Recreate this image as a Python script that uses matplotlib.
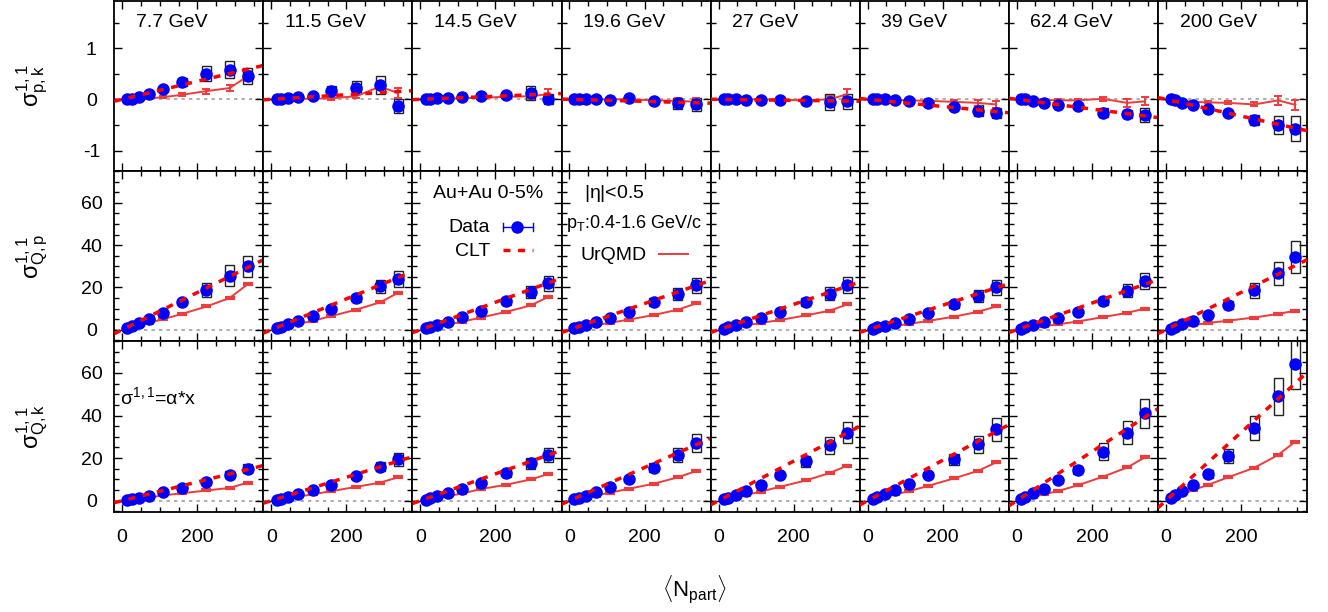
import numpy as np
import matplotlib
matplotlib.use("Agg")
import matplotlib.pyplot as plt
from matplotlib.patches import Rectangle
from matplotlib.lines import Line2D
from matplotlib.ticker import MultipleLocator, FixedLocator

plt.rcParams['font.family'] = ['Liberation Sans', 'DejaVu Sans']
plt.rcParams['mathtext.fontset'] = 'custom'
plt.rcParams['mathtext.rm'] = 'Liberation Sans'
plt.rcParams['mathtext.it'] = 'Liberation Sans'
plt.rcParams['mathtext.sf'] = 'Liberation Sans'
plt.rcParams['axes.unicode_minus'] = False

energies = ['7.7 GeV', '11.5 GeV', '14.5 GeV', '19.6 GeV', '27 GeV', '39 GeV', '62.4 GeV', '200 GeV']

# <Npart> per energy, peripheral -> central (70-80% ... 0-5%)
npart = [
    [14, 26, 45, 72, 108, 160, 224, 286, 334],
    [14, 26, 44, 72, 110, 160, 226, 290, 338],
    [14, 26, 45, 73, 111, 162, 229, 294, 340],
    [13, 25, 44, 71, 108, 158, 225, 289, 338],
    [14, 26, 46, 74, 112, 163, 232, 296, 343],
    [14, 26, 46, 74, 111, 162, 230, 294, 342],
    [12, 23, 43, 73, 111, 162, 230, 294, 341],
    [14, 25, 44, 73, 113, 166, 236, 299, 345],
]

# sigma^{1,1}_{p,k}
pk_data = [
    [0.0, 0.01, 0.05, 0.11, 0.2, 0.34, 0.5, 0.58, 0.45],
    [0.0, 0.0, 0.03, 0.04, 0.06, 0.17, 0.23, 0.28, -0.13],
    [0.0, 0.01, 0.02, 0.03, 0.05, 0.06, 0.08, 0.12, 0.0],
    [0.0, 0.0, 0.0, 0.0, -0.01, 0.02, -0.03, -0.08, -0.1],
    [0.0, 0.0, 0.0, -0.01, -0.01, -0.02, -0.03, -0.05, -0.04],
    [0.0, 0.0, 0.0, -0.02, -0.04, -0.08, -0.15, -0.22, -0.26],
    [0.0, 0.0, -0.03, -0.07, -0.11, -0.14, -0.26, -0.285, -0.31],
    [0.0, -0.01, -0.07, -0.12, -0.19, -0.27, -0.4, -0.5, -0.57],
]
pk_sys = [
    [0.01, 0.01, 0.02, 0.03, 0.04, 0.085, 0.15, 0.17, 0.155],
    [0.01, 0.01, 0.02, 0.02, 0.03, 0.09, 0.12, 0.17, 0.13],
    [0.01, 0.01, 0.01, 0.02, 0.02, 0.04, 0.06, 0.14, 0.1],
    [0.01, 0.01, 0.01, 0.02, 0.02, 0.04, 0.06, 0.1, 0.13],
    [0.01, 0.01, 0.01, 0.02, 0.02, 0.04, 0.06, 0.15, 0.15],
    [0.01, 0.01, 0.01, 0.02, 0.03, 0.04, 0.06, 0.1, 0.1],
    [0.01, 0.01, 0.02, 0.03, 0.04, 0.05, 0.09, 0.085, 0.14],
    [0.01, 0.01, 0.02, 0.03, 0.04, 0.05, 0.1, 0.18, 0.25],
]
pk_urqmd = [
    [0.0, 0.005, 0.01, 0.02, 0.04, 0.09, 0.16, 0.22, 0.45],
    [0.0, 0.0, 0.01, 0.01, 0.01, 0.02, 0.06, 0.25, 0.12],
    [0.0, 0.0, 0.01, 0.01, 0.02, 0.03, 0.05, 0.06, 0.1],
    [0.0, 0.0, 0.0, 0.0, 0.0, 0.0, -0.02, -0.03, -0.05],
    [0.0, 0.0, 0.0, 0.0, 0.0, -0.01, -0.02, 0.0, 0.1],
    [0.0, 0.0, 0.0, -0.01, -0.02, -0.03, -0.05, -0.07, -0.1],
    [0.0, 0.0, -0.01, -0.01, -0.02, -0.02, 0.01, -0.07, -0.04],
    [0.0, -0.01, -0.03, -0.05, -0.06, -0.07, -0.1, -0.02, -0.11],
]
pk_urqmd_err = [
    [0.005, 0.01, 0.01, 0.015, 0.02, 0.03, 0.05, 0.055, 0.1],
    [0.01, 0.01, 0.01, 0.015, 0.02, 0.03, 0.04, 0.065, 0.1],
    [0.01, 0.01, 0.01, 0.015, 0.02, 0.03, 0.04, 0.06, 0.1],
    [0.01, 0.01, 0.01, 0.015, 0.02, 0.03, 0.04, 0.06, 0.07],
    [0.01, 0.01, 0.01, 0.015, 0.02, 0.03, 0.04, 0.07, 0.1],
    [0.01, 0.01, 0.01, 0.015, 0.02, 0.03, 0.04, 0.06, 0.07],
    [0.01, 0.01, 0.01, 0.015, 0.02, 0.03, 0.04, 0.08, 0.08],
    [0.01, 0.01, 0.01, 0.02, 0.02, 0.03, 0.04, 0.09, 0.09],
]
pk_alpha = [0.00176, 0.00045, 0.0003, -0.0002, -0.0001, -0.0007, -0.00095, -0.00163]

# sigma^{1,1}_{Q,p}
qp_data = [
    [1.0, 1.8, 3.0, 5.0, 8.0, 13.0, 19.0, 25.5, 30.0],
    [0.8, 1.5, 2.5, 4.2, 6.5, 10.0, 15.0, 20.5, 24.0],
    [0.7, 1.4, 2.3, 3.8, 6.0, 9.0, 13.5, 18.0, 22.0],
    [0.7, 1.2, 2.1, 3.5, 5.5, 8.5, 13.0, 17.0, 21.0],
    [0.6, 1.2, 2.1, 3.5, 5.5, 8.5, 13.0, 17.0, 21.0],
    [0.6, 1.1, 2.0, 3.3, 5.2, 8.0, 12.0, 16.0, 20.0],
    [0.6, 1.2, 2.1, 3.5, 5.5, 8.5, 13.5, 18.5, 23.0],
    [0.5, 1.3, 2.7, 4.1, 7.2, 11.8, 18.6, 26.7, 34.3],
]
qp_sys = [
    [0.2, 0.3, 0.4, 0.6, 1.0, 1.5, 3.3, 5.0, 5.0],
    [0.2, 0.3, 0.4, 0.6, 0.9, 1.2, 2.0, 3.0, 3.8],
    [0.2, 0.3, 0.4, 0.6, 0.8, 1.1, 1.8, 2.8, 3.5],
    [0.2, 0.3, 0.4, 0.6, 0.8, 1.1, 1.8, 2.8, 3.5],
    [0.2, 0.3, 0.4, 0.6, 0.8, 1.1, 1.8, 3.0, 3.8],
    [0.2, 0.3, 0.4, 0.6, 0.8, 1.1, 1.8, 2.8, 3.5],
    [0.2, 0.3, 0.4, 0.6, 0.8, 1.2, 2.0, 3.0, 3.8],
    [0.2, 0.3, 0.4, 0.6, 1.0, 1.8, 3.6, 5.4, 7.5],
]
qp_urqmd = [
    [0.6, 1.2, 2.0, 3.3, 5.0, 7.5, 11.0, 15.0, 21.5],
    [0.5, 1.0, 1.7, 2.8, 4.2, 6.5, 9.5, 13.0, 17.5],
    [0.5, 0.9, 1.5, 2.5, 3.8, 5.8, 8.5, 11.5, 15.5],
    [0.4, 0.8, 1.3, 2.2, 3.3, 4.8, 7.0, 9.5, 12.5],
    [0.4, 0.7, 1.2, 2.1, 3.2, 4.6, 6.8, 9.0, 12.0],
    [0.3, 0.7, 1.1, 1.9, 2.8, 4.2, 6.2, 8.5, 11.0],
    [0.3, 0.6, 1.0, 1.7, 2.6, 3.9, 6.0, 8.0, 10.0],
    [0.4, 0.8, 1.4, 2.2, 3.2, 4.3, 5.8, 7.5, 9.0],
]
qp_alpha = [0.088, 0.073, 0.065, 0.062, 0.06, 0.058, 0.063, 0.088]

# sigma^{1,1}_{Q,k}
qk_data = [
    [0.3, 0.8, 1.4, 2.4, 3.9, 6.0, 9.0, 12.3, 15.0],
    [0.5, 1.0, 1.8, 3.0, 5.0, 7.5, 11.5, 16.0, 19.5],
    [0.5, 1.1, 2.0, 3.5, 5.5, 8.5, 13.0, 17.5, 21.5],
    [0.6, 1.3, 2.4, 4.0, 6.5, 10.0, 15.5, 21.5, 27.0],
    [0.7, 1.5, 2.8, 4.5, 7.5, 12.0, 18.5, 26.0, 32.0],
    [0.8, 1.6, 3.0, 5.0, 8.0, 12.0, 19.5, 26.5, 33.5],
    [0.9, 1.8, 3.5, 5.7, 9.5, 14.5, 23.0, 32.0, 41.0],
    [1.2, 2.5, 4.5, 7.5, 12.5, 21.0, 34.0, 49.0, 64.0],
]
qk_sys = [
    [0.2, 0.3, 0.4, 0.5, 0.7, 1.0, 1.3, 1.8, 2.2],
    [0.2, 0.3, 0.4, 0.5, 0.7, 1.0, 1.5, 2.2, 3.0],
    [0.2, 0.3, 0.4, 0.5, 0.8, 1.1, 1.7, 2.5, 3.2],
    [0.2, 0.3, 0.4, 0.6, 0.9, 1.3, 2.0, 3.3, 4.2],
    [0.2, 0.3, 0.4, 0.6, 1.0, 1.5, 2.5, 4.0, 5.0],
    [0.2, 0.3, 0.4, 0.6, 1.0, 1.5, 2.5, 4.0, 5.5],
    [0.2, 0.3, 0.5, 0.7, 1.2, 2.0, 4.0, 5.4, 6.8],
    [0.3, 0.4, 0.6, 1.0, 2.0, 3.5, 5.7, 8.6, 11.5],
]
qk_urqmd = [
    [0.2, 0.5, 0.9, 1.5, 2.5, 3.5, 4.8, 6.0, 8.5],
    [0.3, 0.6, 1.1, 1.9, 3.0, 4.5, 6.5, 8.5, 11.0],
    [0.3, 0.7, 1.2, 2.1, 3.4, 5.5, 7.5, 10.0, 12.5],
    [0.4, 0.8, 1.4, 2.4, 3.8, 5.6, 8.0, 11.0, 14.0],
    [0.4, 0.9, 1.6, 2.7, 4.3, 6.5, 9.5, 13.0, 16.5],
    [0.5, 1.0, 1.8, 3.0, 4.5, 7.0, 10.5, 14.0, 18.0],
    [0.5, 1.0, 1.9, 3.0, 4.6, 7.2, 11.3, 15.6, 20.3],
    [0.8, 1.7, 3.0, 5.0, 7.5, 11.0, 15.5, 21.5, 27.8],
]
qk_alpha = [0.044, 0.055, 0.063, 0.078, 0.093, 0.095, 0.115, 0.16]

rows = [
    (pk_data, pk_sys, pk_urqmd, pk_urqmd_err, pk_alpha, r'$\sigma^{1,1}_{p,k}$'),
    (qp_data, qp_sys, qp_urqmd, None, qp_alpha, r'$\sigma^{1,1}_{Q,p}$'),
    (qk_data, qk_sys, qk_urqmd, None, qk_alpha, r'$\sigma^{1,1}_{Q,k}$'),
]

W, H = 1328, 612
fig = plt.figure(figsize=(W / 100, H / 100), dpi=100)

left, right = 114.3, 1307.0
row_edges = [1.0, 171.0, 341.0, 512.0]
pw = (right - left) / 8
xlim = (-21, 376)
blue = '#0000ff'
red = '#ff0000'
ured = '#ee3b3b'

def fx(px):
    return px / W

def fy(py):
    return 1 - py / H

for r, (data, sys, urq, uerr, alpha, ylabel) in enumerate(rows):
    for c in range(8):
        ax = fig.add_axes([fx(left + c * pw), fy(row_edges[r + 1]),
                           pw / W, (row_edges[r + 1] - row_edges[r]) / H])
        x = np.array(npart[c], dtype=float)
        y = np.array(data[c])
        s = np.array(sys[c])
        ax.axhline(0, color='#a0a0a0', lw=1.2, ls=(0, (2, 2.5)), zorder=1)
        for xi, yi, si in zip(x, y, s):
            ax.add_patch(Rectangle((xi - 12, yi - si), 24, 2 * si, fill=False,
                                   ec='#222222', lw=1.0, zorder=2))
        if uerr is not None:
            ax.errorbar(x, urq[c], yerr=uerr[c], color=ured, lw=1.4, capsize=3,
                        capthick=1.4, zorder=3)
        else:
            ax.plot(x, urq[c], color=ured, lw=1.4, marker='_', ms=7, mew=3, zorder=3)
        ax.plot(x, y, 'o', color=blue, ms=8, zorder=4)
        xx = np.array(xlim, dtype=float)
        ax.plot(xx, alpha[c] * xx, color=red, lw=2.5, ls=(0, (2, 2.2)), zorder=5)
        ax.set_xlim(*xlim)
        if r == 0:
            ax.set_ylim(-1.4, 1.92)
            ax.yaxis.set_major_locator(FixedLocator([-1, 0, 1]))
            ax.yaxis.set_minor_locator(MultipleLocator(0.5))
            ax.text(0.145, 0.875, energies[c], transform=ax.transAxes,
                    fontsize=14, va='center', ha='left')
        else:
            ax.set_ylim(-5.3, 75)
            ax.yaxis.set_major_locator(FixedLocator([0, 20, 40, 60]))
            ax.yaxis.set_minor_locator(MultipleLocator(5))
        ax.xaxis.set_major_locator(FixedLocator([0, 200]))
        ax.xaxis.set_minor_locator(MultipleLocator(50))
        ax.tick_params(which='both', direction='in', top=True, right=True,
                       labelsize=14, width=1.0)
        ax.tick_params(which='major', length=6)
        ax.tick_params(which='minor', length=3.5)
        ax.tick_params(axis='x', pad=12)
        ax.tick_params(axis='y', pad=16.5)
        for sp in ax.spines.values():
            sp.set_linewidth(1.3)
        if c > 0:
            ax.set_yticklabels([])
        else:
            for lbl in ax.get_yticklabels():
                lbl.set_horizontalalignment('center')
        if r < 2:
            ax.set_xticklabels([])
        if c == 0:
            fig.text(fx(32), fy((row_edges[r] + row_edges[r + 1]) / 2), ylabel,
                     rotation=90, fontsize=17, ha='center', va='center')

# legend and annotations
fig.text(fx(433), fy(193), 'Au+Au 0-5%', fontsize=14, va='center', ha='left')
fig.text(fx(490), fy(228), 'Data', fontsize=14, va='center', ha='right')
fig.text(fx(490), fy(251), 'CLT', fontsize=14, va='center', ha='right')
fig.text(fx(584), fy(193), r'|$\eta$|<0.5', fontsize=14, va='center', ha='left')
fig.text(fx(566), fy(223), r'p$_{\mathrm{T}}$:0.4-1.6 GeV/c', fontsize=13,
         va='center', ha='left')
fig.text(fx(647), fy(255), 'UrQMD', fontsize=14, va='center', ha='right')
fig.text(fx(120), fy(397), r'$\sigma^{1,1}$=$\alpha$*x', fontsize=14,
         va='center', ha='left')
fig.text(fx(694), fy(590), r'$\langle\mathrm{N}_{\mathrm{part}}\rangle$',
         fontsize=16, va='center', ha='center')

# legend samples
fig.add_artist(Line2D([fx(503), fx(533)], [fy(227), fy(227)], color=blue, lw=1))
for xe in (503, 533):
    fig.add_artist(Line2D([fx(xe), fx(xe)], [fy(223), fy(231)], color=blue, lw=1))
fig.add_artist(Line2D([fx(517)], [fy(227)], marker='o', color=blue, ms=8))
fig.add_artist(Line2D([fx(503), fx(533)], [fy(250), fy(250)], color=red, lw=2.5,
                      ls=(0, (2, 2.2))))
fig.add_artist(Line2D([fx(659), fx(688)], [fy(254), fy(254)], color=ured, lw=1.4))

fig.savefig('out.png', dpi=100)
